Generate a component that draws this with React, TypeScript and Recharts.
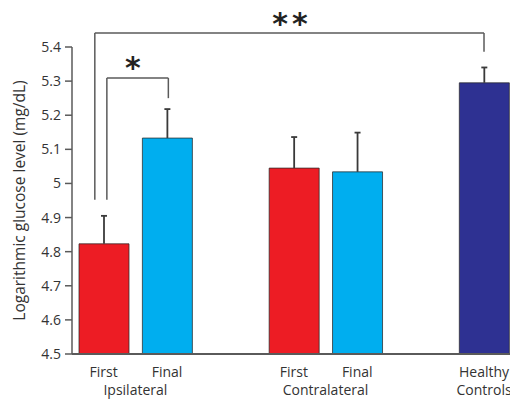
import { BarChart, Bar, XAxis, YAxis, Cell, ReferenceLine, ReferenceDot } from 'recharts';

// bar positions on a numeric x axis (gaps at 2 and 5 separate the groups)
const positions = [0, 1, 3, 4, 6];
const means = [4.823, 5.133, 5.045, 5.034, 5.295];
const upperErrors = [0.082, 0.085, 0.091, 0.115, 0.045];
const barColors = ['#ED1C24', '#00AEEF', '#ED1C24', '#00AEEF', '#2E3192'];

const xTicks = [0, 0.5, 1, 3, 3.5, 4, 6];
const xTickTop: Record<number, string> = { 0: 'First', 1: 'Final', 3: 'First', 4: 'Final', 6: 'Healthy' };
const xTickBottom: Record<number, string> = { 0.5: 'Ipsilateral', 3.5: 'Contralateral', 6: 'Controls' };

const yTicks = [4.5, 4.6, 4.7, 4.8, 4.9, 5, 5.1, 5.2, 5.3, 5.4];

// significance brackets: x of each leg, height of top bar, bottom of each leg
const brackets = [
  { x1: 0.05, x2: 1.02, top: 5.309, leftEnd: 4.952, rightEnd: 5.25, mark: '*', markX: 0.49, markY: 5.341 },
  { x1: -0.14, x2: 6.0, top: 5.441, leftEnd: 4.952, rightEnd: 5.386, mark: '**', markX: 2.97, markY: 5.47 },
];

const data = positions.map((x, i) => ({
  x,
  mean: means[i],
  err: upperErrors[i],
}));

const textColor = '#333';
const axisColor = '#5a5a5a';
const font = '"Open Sans", sans-serif';

function XTick(props: any) {
  const { x, y, payload } = props;
  const top = xTickTop[payload.value];
  const bottom = xTickBottom[payload.value];
  return (
    <g>
      {top && (
        <text x={x} y={y + 15} textAnchor="middle" fontSize={14} fill={textColor} fontFamily={font}>
          {top}
        </text>
      )}
      {bottom && (
        <text x={x} y={y + 33} textAnchor="middle" fontSize={14} fill={textColor} fontFamily={font}>
          {bottom}
        </text>
      )}
    </g>
  );
}

// upper-only whisker drawn on a transparent stacked segment
function Whisker(props: any) {
  const { x, y, width, height } = props;
  const cx = x + width / 2;
  return (
    <g stroke="#3a3a3a" strokeWidth={1.8}>
      <line x1={cx} x2={cx} y1={y} y2={y + height} />
      <line x1={cx - 3} x2={cx + 3} y1={y} y2={y} />
    </g>
  );
}

export default function App() {
  return (
    <div style={{ width: 510, height: 399, overflow: 'hidden' }}>
      <style>{`body{margin:0}`}</style>
      <BarChart width={510} height={399} data={data} margin={{ top: 47, right: 0, left: 0, bottom: 0 }}>
        <XAxis
          dataKey="x"
          type="number"
          domain={[-0.5, 6.41]}
          ticks={xTicks}
          tick={<XTick />}
          tickLine={false}
          axisLine={{ stroke: axisColor, strokeWidth: 2 }}
          height={45}
          interval={0}
          allowDataOverflow
        />
        <YAxis
          domain={[4.5, 5.4]}
          ticks={yTicks}
          width={72}
          tickSize={7}
          tickMargin={4}
          tick={{ fontSize: 14, fill: textColor, fontFamily: font }}
          tickLine={{ stroke: axisColor, strokeWidth: 1.5 }}
          axisLine={{ stroke: axisColor, strokeWidth: 1.5 }}
          allowDataOverflow
          label={{
            value: 'Logarithmic glucose level (mg/dL)',
            angle: -90,
            position: 'insideLeft',
            offset: 19,
            style: { textAnchor: 'middle', fontSize: 15.5, fill: textColor, fontFamily: font },
          }}
        />
        <Bar dataKey="mean" stackId="s" barSize={50} isAnimationActive={false} stroke="#2a2a2a" strokeOpacity={0.75} strokeWidth={1}>
          {data.map((d, i) => (
            <Cell key={d.x} fill={barColors[i]} />
          ))}
        </Bar>
        <Bar dataKey="err" stackId="s" barSize={50} isAnimationActive={false} shape={<Whisker />} />
        {brackets.map((b) => [
          <ReferenceLine
            key={`${b.mark}-l`}
            segment={[{ x: b.x1, y: b.leftEnd }, { x: b.x1, y: b.top }]}
            stroke={axisColor}
            strokeWidth={1.5}
            ifOverflow="visible"
          />,
          <ReferenceLine
            key={`${b.mark}-t`}
            segment={[{ x: b.x1, y: b.top }, { x: b.x2, y: b.top }]}
            stroke={axisColor}
            strokeWidth={1.5}
            ifOverflow="visible"
          />,
          <ReferenceLine
            key={`${b.mark}-r`}
            segment={[{ x: b.x2, y: b.top }, { x: b.x2, y: b.rightEnd }]}
            stroke={axisColor}
            strokeWidth={1.5}
            ifOverflow="visible"
          />,
          <ReferenceDot
            key={`${b.mark}-m`}
            x={b.markX}
            y={b.markY}
            r={0}
            stroke="none"
            fill="none"
            ifOverflow="visible"
            label={{
              value: b.mark,
              position: 'center',
              fontSize: 30,
              fontWeight: 'bold',
              letterSpacing: 4,
              fill: '#222',
              fontFamily: '"DejaVu Sans", sans-serif',
            }}
          />,
        ])}
      </BarChart>
    </div>
  );
}
